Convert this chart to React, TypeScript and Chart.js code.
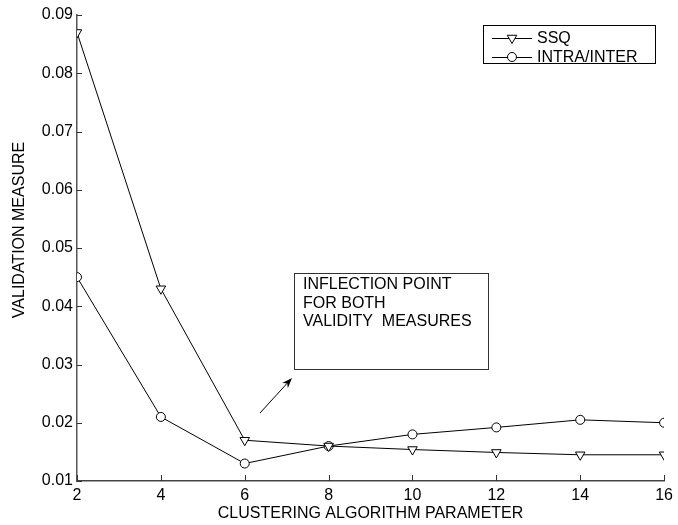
import React, { useEffect, useRef } from "react";
import { Chart, registerables } from "chart.js";

Chart.register(...registerables);

const xValues = [2, 4, 6, 8, 10, 12, 14, 16];
const ssqValues = [0.087, 0.043, 0.017, 0.016, 0.0154, 0.0149, 0.0145, 0.0145];
const intraValues = [0.045, 0.021, 0.013, 0.016, 0.018, 0.0192, 0.0205, 0.02];
const xTicks = [2, 4, 6, 8, 10, 12, 14, 16];
const yTicks = [0.01, 0.02, 0.03, 0.04, 0.05, 0.06, 0.07, 0.08, 0.09];
const seriesNames = ["SSQ", "INTRA/INTER"];
const annotationLines = ["INFLECTION POINT", "FOR BOTH", "VALIDITY  MEASURES"];
const xTitle = "CLUSTERING ALGORITHM PARAMETER";
const yTitle = "VALIDATION MEASURE";

const FONT = "'Liberation Sans', Arial, Helvetica, sans-serif";

const overlayPlugin = {
  id: "overlay",
  afterDraw(chart: any) {
    const ctx = chart.ctx as CanvasRenderingContext2D;
    const xs = chart.scales.x;
    const ys = chart.scales.y;
    const area = chart.chartArea;
    ctx.save();
    // inward ticks
    ctx.strokeStyle = "#333";
    ctx.lineWidth = 1;
    ctx.beginPath();
    for (const t of xTicks) {
      const px = Math.round(xs.getPixelForValue(t)) + 0.5;
      ctx.moveTo(px, area.bottom);
      ctx.lineTo(px, area.bottom - 6);
    }
    for (const t of yTicks) {
      const py = Math.round(ys.getPixelForValue(t)) + 0.5;
      ctx.moveTo(area.left, py);
      ctx.lineTo(area.left + 5, py);
    }
    ctx.stroke();

    // y title
    ctx.save();
    ctx.translate(20, 230);
    ctx.rotate(-Math.PI / 2);
    ctx.font = `16px ${FONT}`;
    ctx.fillStyle = "#000";
    ctx.textAlign = "center";
    ctx.textBaseline = "middle";
    ctx.fillText(yTitle, 0, 0);
    ctx.restore();

    // legend
    const lx = 483.5, ly = 25.5, lw = 172, lh = 38;
    ctx.fillStyle = "#fff";
    ctx.fillRect(lx, ly, lw, lh);
    ctx.strokeStyle = "#000";
    ctx.strokeRect(lx, ly, lw, lh);
    ctx.font = `16px ${FONT}`;
    ctx.textBaseline = "middle";
    ctx.textAlign = "left";
    const rows = [38, 57];
    rows.forEach((ry, i) => {
      ctx.strokeStyle = "#000";
      ctx.lineWidth = 1;
      ctx.beginPath();
      ctx.moveTo(492, ry + 0.5);
      ctx.lineTo(532, ry + 0.5);
      ctx.stroke();
      ctx.beginPath();
      if (i === 0) {
        const r = 5.5;
        ctx.moveTo(512, ry + r);
        ctx.lineTo(512 - r * 0.866, ry - r * 0.5);
        ctx.lineTo(512 + r * 0.866, ry - r * 0.5);
        ctx.closePath();
      } else {
        ctx.arc(512, ry, 4.5, 0, Math.PI * 2);
      }
      ctx.fillStyle = "#fff";
      ctx.fill();
      ctx.stroke();
      ctx.fillStyle = "#000";
      ctx.fillText(seriesNames[i], 537, ry + 1);
    });

    // annotation box
    ctx.strokeStyle = "#333";
    ctx.strokeRect(294.5, 273.5, 194, 96);
    ctx.fillStyle = "#000";
    annotationLines.forEach((t, i) => {
      ctx.fillText(t, 303, 285 + i * 18.5);
    });

    // arrow
    const x1 = 260, y1 = 413, x2 = 292, y2 = 378;
    const ang = Math.atan2(y2 - y1, x2 - x1);
    ctx.strokeStyle = "#000";
    ctx.beginPath();
    ctx.moveTo(x1, y1);
    ctx.lineTo(x2 - Math.cos(ang) * 6, y2 - Math.sin(ang) * 6);
    ctx.stroke();
    ctx.beginPath();
    ctx.moveTo(x2, y2);
    ctx.lineTo(x2 - Math.cos(ang - 0.35) * 11, y2 - Math.sin(ang - 0.35) * 11);
    ctx.lineTo(x2 - Math.cos(ang) * 7, y2 - Math.sin(ang) * 7);
    ctx.lineTo(x2 - Math.cos(ang + 0.35) * 11, y2 - Math.sin(ang + 0.35) * 11);
    ctx.closePath();
    ctx.fillStyle = "#000";
    ctx.fill();
    ctx.restore();
  },
};

export default function App() {
  const ref = useRef<HTMLCanvasElement | null>(null);
  useEffect(() => {
    if (!ref.current) return;
    const chart = new Chart(ref.current, {
      type: "line",
      data: {
        datasets: [
          {
            label: seriesNames[0],
            data: xValues.map((x, i) => ({ x, y: ssqValues[i] })),
            borderColor: "#000",
            borderWidth: 1,
            pointStyle: "triangle",
            rotation: 180,
            pointRadius: 5.5,
            pointBackgroundColor: "#fff",
            pointBorderColor: "#000",
            pointBorderWidth: 1,
            tension: 0,
          } as any,
          {
            label: seriesNames[1],
            data: xValues.map((x, i) => ({ x, y: intraValues[i] })),
            borderColor: "#000",
            borderWidth: 1,
            pointStyle: "circle",
            pointRadius: 4.5,
            pointBackgroundColor: "#fff",
            pointBorderColor: "#000",
            pointBorderWidth: 1,
            tension: 0,
          },
        ],
      },
      options: {
        animation: false,
        responsive: false,
        maintainAspectRatio: false,
        layout: { padding: { top: 15, right: 11, left: 0, bottom: 0 } },
        plugins: { legend: { display: false }, tooltip: { enabled: false } },
        scales: {
          x: {
            type: "linear",
            min: 2,
            max: 16,
            afterFit: (s: any) => {
              s.height = 44;
            },
            ticks: {
              stepSize: 2,
              color: "#000",
              font: { family: FONT, size: 16 },
              padding: 5,
              maxRotation: 0,
            },
            grid: { display: false, drawTicks: false },
            border: { display: true, color: "#444", width: 1.5 },
            title: {
              display: true,
              text: xTitle,
              color: "#000",
              font: { family: FONT, size: 16 },
              padding: { top: 0, bottom: 2 },
            },
          },
          y: {
            type: "linear",
            min: 0.01,
            max: 0.09,
            afterFit: (s: any) => {
              s.width = 77;
            },
            ticks: {
              stepSize: 0.01,
              color: "#000",
              font: { family: FONT, size: 16 },
              padding: 4,
              callback: (v: any) => Number(v).toFixed(2),
            },
            grid: { display: false, drawTicks: false },
            border: { display: true, color: "#555", width: 1.5 },
            title: { display: false, text: yTitle },
          },
        },
      },
      plugins: [overlayPlugin],
    });
    return () => chart.destroy();
  }, []);
  return (
    <div style={{ position: "fixed", left: 0, top: 0, width: 678, height: 525, background: "#fff" }}>
      <canvas ref={ref} width={678} height={525} />
    </div>
  );
}
